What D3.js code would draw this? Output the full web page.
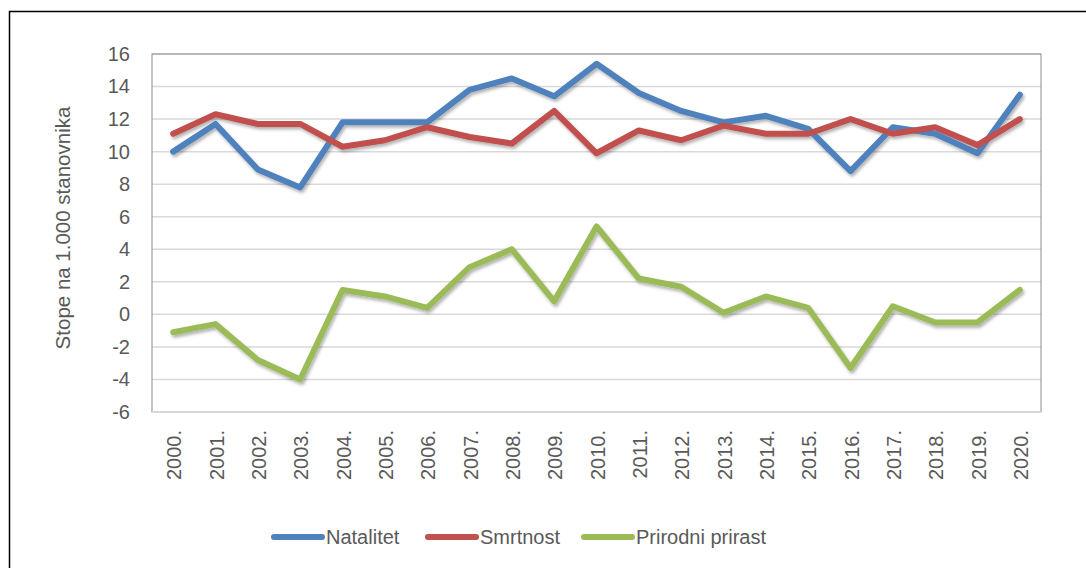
<!DOCTYPE html>
<html>
<head>
<meta charset="utf-8">
<script src="https://cdn.jsdelivr.net/npm/d3@7"></script>
<style>
    body { margin: 0; background: #fff; }
    svg text { font-family: "Liberation Sans", Arial, sans-serif; fill: #595959; }
</style>
</head>
<body>
<div id="chart"></div>
<script>
// godine
let years = ['2000.', '2001.', '2002.', '2003.', '2004.', '2005.', '2006.', '2007.', '2008.', '2009.', '2010.',
    '2011.', '2012.', '2013.', '2014.', '2015.', '2016.', '2017.', '2018.', '2019.', '2020.'];

let natalitet = [10.0, 11.7, 8.9, 7.8, 11.8, 11.8, 11.8, 13.8, 14.5, 13.4, 15.4,
    13.6, 12.5, 11.8, 12.2, 11.4, 8.8, 11.5, 11.1, 9.9, 13.5];
let smrtnost = [11.1, 12.3, 11.7, 11.7, 10.3, 10.7, 11.5, 10.9, 10.5, 12.5, 9.9,
    11.3, 10.7, 11.6, 11.1, 11.1, 12.0, 11.1, 11.5, 10.4, 12.0];
let prirast = [-1.1, -0.6, -2.8, -4.0, 1.5, 1.1, 0.4, 2.9, 4.0, 0.8, 5.4,
    2.2, 1.7, 0.1, 1.1, 0.4, -3.3, 0.5, -0.5, -0.5, 1.5];

let yTicks = [-6, -4, -2, 0, 2, 4, 6, 8, 10, 12, 14, 16];

let seriesNames = ['Natalitet', 'Smrtnost', 'Prirodni prirast'];
let seriesColors = ['#4f81bd', '#c0504d', '#9bbb59'];

let width = 1086, height = 568;
let plot = { left: 152, top: 54, right: 1041, bottom: 412 };

let svg = d3.select('#chart').append('svg')
    .attr('width', width)
    .attr('height', height);

// sjena za linije
let defs = svg.append('defs');
let shadow = defs.append('filter').attr('id', 'shadow')
    .attr('x', '-5%').attr('y', '-10%').attr('width', '110%').attr('height', '130%');
shadow.append('feDropShadow')
    .attr('dx', 1.5).attr('dy', 2.5).attr('stdDeviation', 1.5)
    .attr('flood-color', '#000').attr('flood-opacity', 0.3);

// okvir grafikona
svg.append('rect')
    .attr('x', 9.5).attr('y', 11.5)
    .attr('width', 1100).attr('height', 600)
    .attr('fill', 'none')
    .attr('stroke', '#000')
    .attr('stroke-width', 1.5);

let xScale = d3.scaleBand().domain(years).range([plot.left, plot.right]);
let yScale = d3.scaleLinear().domain([-6, 16]).range([plot.bottom, plot.top]);

// mreža
svg.append('g').selectAll('line')
    .data(yTicks)
    .join('line')
    .attr('x1', plot.left).attr('x2', plot.right)
    .attr('y1', d => yScale(d)).attr('y2', d => yScale(d))
    .attr('stroke', '#d9d9d9')
    .attr('stroke-width', 1.5);

svg.append('rect')
    .attr('x', plot.left).attr('y', plot.top)
    .attr('width', plot.right - plot.left).attr('height', plot.bottom - plot.top)
    .attr('fill', 'none')
    .attr('stroke', '#8c8c8c')
    .attr('stroke-width', 1);

svg.append('line')
    .attr('x1', plot.left).attr('x2', plot.right)
    .attr('y1', plot.bottom).attr('y2', plot.bottom)
    .attr('stroke', '#d9d9d9')
    .attr('stroke-width', 2);

// y os
let yAxis = d3.axisLeft(yScale).tickValues(yTicks).tickSize(0).tickPadding(22).tickFormat(d => String(d));
let yG = svg.append('g').attr('transform', `translate(${plot.left},0)`).call(yAxis);
yG.select('.domain').remove();
yG.selectAll('text').style('font-size', '20px').attr('fill', '#595959').attr('font-family', null);

// x os
let xAxis = d3.axisBottom(xScale).tickSize(0);
let xG = svg.append('g').attr('transform', `translate(0,${plot.bottom})`).call(xAxis);
xG.select('.domain').remove();
xG.selectAll('text')
    .style('font-size', '20px')
    .attr('fill', '#595959')
    .attr('font-family', null)
    .attr('text-anchor', 'end')
    .attr('dy', null)
    .attr('y', 0)
    .attr('dominant-baseline', 'central')
    .attr('transform', 'translate(1,18) rotate(-90)');

// naslov y osi
svg.append('text')
    .attr('transform', `translate(62,${(plot.top + plot.bottom) / 2 - 5}) rotate(-90)`)
    .attr('text-anchor', 'middle')
    .attr('dominant-baseline', 'central')
    .style('font-size', '20.5px')
    .text('Stope na 1.000 stanovnika');

// linije
let series = [natalitet, smrtnost, prirast];
let line = d3.line()
    .x((d, i) => xScale(years[i]) + xScale.bandwidth() / 2)
    .y(d => yScale(d));

svg.append('g').attr('filter', 'url(#shadow)')
    .selectAll('path')
    .data(series)
    .join('path')
    .attr('d', d => line(d))
    .attr('fill', 'none')
    .attr('stroke', (d, i) => seriesColors[i])
    .attr('stroke-width', 6)
    .attr('stroke-linejoin', 'round')
    .attr('stroke-linecap', 'round');

// legenda
let legendX = [274, 428, 584];
let legend = svg.append('g').selectAll('g')
    .data(seriesNames)
    .join('g')
    .attr('transform', (d, i) => `translate(${legendX[i]},537)`);

legend.append('line')
    .attr('x1', 0).attr('x2', 48)
    .attr('stroke', (d, i) => seriesColors[i])
    .attr('stroke-width', 6)
    .attr('stroke-linecap', 'round');

legend.append('text')
    .attr('x', 52)
    .attr('dominant-baseline', 'central')
    .style('font-size', '20px')
    .text(d => d);
</script>
</body>
</html>
